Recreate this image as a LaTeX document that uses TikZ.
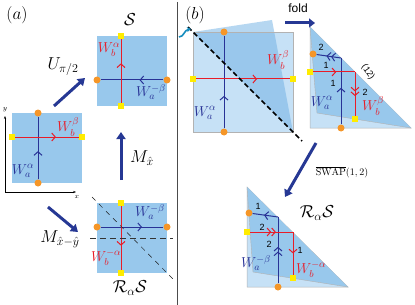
\documentclass[tikz,border=0pt]{standalone}
\usepackage{amsmath}
\usepackage{fontspec}
\newfontfamily\labelsans{Liberation Sans}
\usepackage{xcolor}
\definecolor{sqblue}{RGB}{152,200,236}
\definecolor{paleblue}{RGB}{198,225,246}
\definecolor{flapblue}{RGB}{110,175,228}
\definecolor{lineblue}{RGB}{40,50,150}
\definecolor{linered}{RGB}{232,28,40}
\definecolor{dotorange}{RGB}{245,150,40}
\definecolor{dotyellow}{RGB}{255,236,0}
\definecolor{arrblue}{RGB}{38,56,148}
\definecolor{foldteal}{RGB}{20,140,190}
\usetikzlibrary{arrows.meta, positioning, decorations.markings}

\begin{document}
\begin{tikzpicture}[
  x=1pt, y=-1pt,
  odot/.style={circle, fill=dotorange, inner sep=0pt, minimum size=7pt},
  ydot/.style={rectangle, fill=dotyellow, inner sep=0pt, minimum size=6pt},
  bline/.style={color=lineblue, line width=1pt},
  rline/.style={color=linered, line width=1pt},
  midhead/.style={postaction={decorate}, decoration={markings,
      mark=at position #1 with {\arrow{Straight Barb[length=3.5pt,width=8pt]}}}},
  dblhead/.style={postaction={decorate}, decoration={markings,
      mark=at position #1 with {\arrow{Straight Barb[length=3.5pt,width=8pt] Straight Barb[length=3.5pt,width=8pt]}}}},
  bigarr/.style={-{Triangle[length=7pt,width=9pt]}, line width=3pt, color=arrblue},
  wred/.style={text=linered, font=\Large},
  wblue/.style={text=lineblue, font=\Large},
  oplbl/.style={font=\LARGE},
  numlbl/.style={font=\labelsans\small}
]
  \useasboundingbox (0,0) rectangle (415,305);

  % ---- panel (a) ----
  \node[oplbl] (tagA) at (17,15) {$(a)$};
  \draw[gray!60!black, line width=0.8pt] (177,2) -- (177,305);

  % S
  \fill[sqblue] (97,36) rectangle (167,106);
  \node[odot] (sL) at (97,80) {};
  \node[odot] (sR) at (167,80) {};
  \node[ydot] (sT) at (121,36) {};
  \node[ydot] (sB) at (121,106) {};
  \draw[bline, midhead=0.38] (sR) -- (sL);
  \draw[rline, midhead=0.62] (sB) -- (sT);
  \node[wred] (sWb) at (109,50) {$W_b^{\alpha}$};
  \node[wblue] (sWa) at (151,92) {$W_a^{-\beta}$};
  \node[oplbl] (sName) at (130,20) {$\mathcal{S}$};

  % initial square
  \fill[sqblue] (12,113) rectangle (82,183);
  \node[odot] (iT) at (38,113) {};
  \node[odot] (iB) at (38,183) {};
  \node[ydot] (iL) at (12,137) {};
  \node[ydot] (iR) at (82,137) {};
  \draw[bline, midhead=0.45] (iB) -- (iT);
  \draw[rline, midhead=0.64] (iL) -- (iR);
  \node[wred] (iWb) at (68,127) {$W_b^{\beta}$};
  \node[wblue] (iWa) at (23,171) {$W_a^{\alpha}$};
  \coordinate (ax0) at (5,192);
  \coordinate (axX) at (76,192);
  \coordinate (axY) at (5,116);
  \draw[-{Stealth[length=3pt]}, line width=0.5pt] (ax0) -- (axX);
  \draw[-{Stealth[length=3pt]}, line width=0.5pt] (ax0) -- (axY);
  \node[font=\scriptsize] (axXl) at (77,197) {$x$};
  \node[font=\scriptsize] (axYl) at (5,110) {$y$};

  % R_alpha S
  \fill[sqblue] (97,203) rectangle (167,273);
  \node[odot] (rL) at (97,227) {};
  \node[odot] (rR) at (167,227) {};
  \node[ydot] (rT) at (121,203) {};
  \node[ydot] (rB) at (121,273) {};
  \draw[bline, midhead=0.66] (rL) -- (rR);
  \draw[rline, midhead=0.62] (rT) -- (rB);
  \draw[gray!40!black, line width=0.6pt, dash pattern=on 6pt off 4pt] (90,238) -- (173,238);
  \draw[gray!20!black, line width=0.5pt, dash pattern=on 5pt off 5pt] (92,197) -- (173,279);
  \node[wblue] (rWa) at (150,212) {$W_a^{-\beta}$};
  \node[wred] (rWb) at (106,258) {$W_b^{-\alpha}$};
  \node[oplbl] (rName) at (130,288) {$\mathcal{R}_{\alpha}\mathcal{S}$};

  % operations
  \coordinate (uA) at (54,106);
  \coordinate (uB) at (85,78);
  \draw[bigarr] (uA) -- (uB);
  \node[oplbl] (uLbl) at (63,67) {$U_{\pi/2}$};
  \coordinate (mxA) at (121,180);
  \coordinate (mxB) at (121,132);
  \draw[bigarr] (mxA) -- (mxB);
  \node[oplbl] (mxLbl) at (142,158) {$M_{\hat{x}}$};
  \coordinate (mdA) at (48,207);
  \coordinate (mdB) at (78,232);
  \draw[bigarr] (mdA) -- (mdB);
  \node[oplbl] (mdLbl) at (60,239) {$M_{\hat{x}-\hat{y}}$};

  % ---- panel (b) ----
  \node[oplbl] (tagB) at (195,15) {$(b)$};

  \fill[paleblue] (193,32) rectangle (293,132);
  \fill[flapblue, opacity=0.5] (193,32) -- (272,20) -- (293,132) -- cycle;
  \draw[gray!60, line width=0.5pt] (193,32) rectangle (293,132);
  \node[odot] (bT) at (224,32) {};
  \node[odot] (bB) at (224,132) {};
  \node[ydot] (bL) at (193,79) {};
  \node[ydot] (bR) at (293,79) {};
  \draw[bline, midhead=0.35] (bB) -- (bT);
  \draw[rline, midhead=0.65] (bL) -- (bR);
  \node[wred] (bWb) at (278,60) {$W_b^{\beta}$};
  \node[wblue] (bWa) at (205,113) {$W_a^{\alpha}$};
  \coordinate (diagA) at (188,27);
  \coordinate (diagB) at (302,141);
  \draw[black, line width=1.5pt, dash pattern=on 5pt off 3pt] (diagA) -- (diagB);
  \draw[foldteal, line width=1.6pt, -{Stealth[length=4pt,width=5pt]}]
    (179,37) .. controls (184,37) and (184,30) .. (191,29);

  % fold
  \node[font=\labelsans\large] (foldLbl) at (298,8) {fold};
  \coordinate (fA) at (285,23);
  \coordinate (fB) at (315,23);
  \draw[-{Triangle[length=6pt,width=9pt]}, line width=3pt, color=arrblue] (fA) -- (fB);

  % folded triangle
  \fill[paleblue] (310,27) -- (310,128) -- (411,128) -- cycle;
  \draw[gray!60, line width=0.5pt] (310,27) -- (310,128) -- (411,128) -- cycle;
  \fill[sqblue] (310,27) -- (317,113) -- (411,128) -- cycle;
  \draw[gray!60, line width=0.4pt] (310,27) -- (317,113) -- (411,128);
  \node[odot] (fBo) at (341,128) {};
  \node[odot] (fLo) at (313,54) {};
  \node[ydot] (fLy) at (310,72) {};
  \node[ydot] (fBy) at (355,119) {};
  \coordinate (fCb) at (341,58);
  \coordinate (fCr) at (355,72);
  \draw[bline, midhead=0.55] (fBo) -- (fCb);
  \draw[bline, dblhead=0.6] (fCb) -- (fLo);
  \draw[rline, midhead=0.55] (fLy) -- (fCr);
  \draw[rline, dblhead=0.55] (fCr) -- (fBy);
  \node[numlbl] (f1b) at (333,83) {1};
  \node[numlbl] (f2b) at (321,47) {2};
  \node[numlbl] (f1r) at (326,65) {1};
  \node[numlbl] (f2r) at (365,92) {2};
  \node[wblue] (fWa) at (322,103) {$W_a^{\alpha}$};
  \node[wred] (fWb) at (373,106) {$W_b^{\beta}$};
  \node[font=\labelsans\small, rotate=-55] (fPerm) at (368,72) {(12)};

  % swap
  \coordinate (swA) at (316,143);
  \coordinate (swB) at (285,197);
  \draw[bigarr] (swA) -- (swB);
  \node[font=\normalsize] (swLbl) at (342,172) {$\overline{\mathrm{SWAP}}(1,2)$};

  % swapped triangle
  \fill[paleblue] (247,187) -- (247,287) -- (348,287) -- cycle;
  \draw[gray!60, line width=0.5pt] (247,187) -- (247,287) -- (348,287) -- cycle;
  \fill[sqblue] (247,187) -- (253,272) -- (348,287) -- cycle;
  \draw[gray!60, line width=0.4pt] (247,187) -- (253,272) -- (348,287);
  \node[odot] (sBo) at (278,287) {};
  \node[odot] (sLo) at (249,213) {};
  \node[ydot] (sLy) at (247,232) {};
  \node[ydot] (sBy) at (293,278) {};
  \coordinate (sCb) at (278,217);
  \coordinate (sCr) at (293,232);
  \draw[bline, dblhead=0.55] (sBo) -- (sCb);
  \draw[bline, midhead=0.55] (sCb) -- (sLo);
  \draw[rline, dblhead=0.6] (sLy) -- (sCr);
  \draw[rline, midhead=0.5] (sCr) -- (sBy);
  \node[numlbl] (s1b) at (258,206) {1};
  \node[numlbl] (s2b) at (269,244) {2};
  \node[numlbl] (s2r) at (262,227) {2};
  \node[numlbl] (s1r) at (300,250) {1};
  \node[wblue] (sWa2) at (256,263) {$W_a^{-\beta}$};
  \node[wred] (sWb2) at (311,270) {$W_b^{-\alpha}$};
  \node[oplbl] (sName2) at (317,213) {$\mathcal{R}_{\alpha}\mathcal{S}$};
\end{tikzpicture}
\end{document}
